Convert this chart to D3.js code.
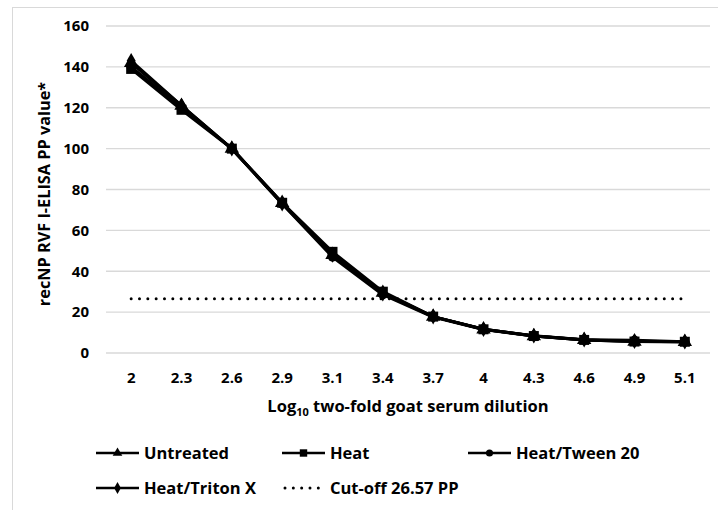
<!DOCTYPE html>
<html>
<head>
<meta charset="utf-8">
<script src="https://cdn.jsdelivr.net/npm/d3@7"></script>
<style>
  html, body { margin: 0; padding: 0; background: #fff; }
  svg { display: block; font-family: "Open Sans", Lato, sans-serif; font-weight: bold; }
</style>
</head>
<body>
<svg id="chart" width="718" height="510"></svg>
<script>
// Log10 two-fold goat serum dilution (category axis)
const dilutions = ["2", "2.3", "2.6", "2.9", "3.1", "3.4", "3.7", "4", "4.3", "4.6", "4.9", "5.1"];

// recNP RVF I-ELISA PP values per treatment
const untreated   = [142, 121, 100, 73.5, 48, 29.5, 17.8, 11.6, 8.3, 6.4, 5.6, 5.5];
const heat        = [139, 119, 100, 73.5, 49.5, 30, 17.8, 11.6, 8.3, 6.4, 5.6, 5.5];
const heatTween   = [140, 120, 100, 73, 47, 28.5, 17.6, 11.5, 8.3, 6.5, 6.2, 5.5];
const heatTriton  = [143, 121, 100, 73, 48, 29, 17.8, 11.6, 8.4, 6.5, 5.8, 5.5];

const cutoff = 26.57;
const yTicks = [0, 20, 40, 60, 80, 100, 120, 140, 160];

const series = [
  { name: "Untreated",     values: untreated,  symbol: d3.symbolTriangle, size: 90 },
  { name: "Heat",          values: heat,       symbol: d3.symbolSquare,   size: 100 },
  { name: "Heat/Tween 20", values: heatTween,  symbol: d3.symbolCircle,   size: 70 },
  { name: "Heat/Triton X", values: heatTriton, symbol: d3.symbolDiamond,  size: 70 }
];

const svg = d3.select("#chart");

// outer chart frame
svg.append("rect")
  .attr("x", 12.5).attr("y", 7.5).attr("width", 720).attr("height", 520)
  .attr("fill", "none").attr("stroke", "#d9d9d9").attr("stroke-width", 1);

const x = d3.scaleBand().domain(dilutions).range([106, 710]).padding(0);
const y = d3.scaleLinear().domain([0, 160]).range([353, 26]);
const cx = d => x(d) + x.bandwidth() / 2;

// horizontal gridlines
svg.append("g").selectAll("line").data(yTicks).join("line")
  .attr("x1", 106).attr("x2", 710)
  .attr("y1", d => y(d)).attr("y2", d => y(d))
  .attr("stroke", "#d9d9d9").attr("stroke-width", 1.3);

// y axis tick labels
svg.append("g").selectAll("text").data(yTicks).join("text")
  .attr("x", 89).attr("y", d => y(d)).attr("dy", "0.35em")
  .attr("text-anchor", "end").attr("font-size", 15).attr("fill", "#000")
  .text(d => d);

// x axis tick labels
svg.append("g").selectAll("text").data(dilutions).join("text")
  .attr("x", d => cx(d)).attr("y", 378).attr("dy", "0.35em")
  .attr("text-anchor", "middle").attr("font-size", 15).attr("fill", "#000")
  .text(d => d);

// axis titles
const xt = svg.append("text")
  .attr("x", 408).attr("y", 406).attr("dy", "0.35em")
  .attr("text-anchor", "middle").attr("font-size", 16.5).attr("fill", "#000");
xt.append("tspan").text("Log");
xt.append("tspan").attr("font-size", 11).attr("dy", 4).text("10");
xt.append("tspan").attr("dy", -4).text(" two-fold goat serum dilution");

svg.append("text")
  .attr("transform", "translate(44,194) rotate(-90)")
  .attr("dy", "0.35em")
  .attr("text-anchor", "middle").attr("font-size", 16.3).attr("fill", "#000")
  .text("recNP RVF I-ELISA PP value*");

// cut-off line
svg.append("line")
  .attr("x1", cx(dilutions[0])).attr("x2", cx(dilutions[dilutions.length - 1]))
  .attr("y1", y(cutoff)).attr("y2", y(cutoff))
  .attr("stroke", "#000").attr("stroke-width", 3)
  .attr("stroke-linecap", "round").attr("stroke-dasharray", "0 8.33");

// data lines and markers
const line = d3.line().x((d, i) => cx(dilutions[i])).y(d => y(d));
series.forEach(s => {
  svg.append("path").datum(s.values)
    .attr("d", line).attr("fill", "none")
    .attr("stroke", "#000").attr("stroke-width", 3).attr("stroke-linejoin", "round");
  svg.append("g").selectAll("path").data(s.values).join("path")
    .attr("transform", (d, i) => `translate(${cx(dilutions[i])},${y(d)})`)
    .attr("d", d3.symbol().type(s.symbol).size(s.size))
    .attr("fill", "#000");
});

// legend
const legendItems = [
  { name: "Untreated",          symbol: d3.symbolTriangle, x: 96,  y: 453 },
  { name: "Heat",               symbol: d3.symbolSquare,   x: 282, y: 453 },
  { name: "Heat/Tween 20",      symbol: d3.symbolCircle,   x: 468, y: 453 },
  { name: "Heat/Triton X",      symbol: d3.symbolDiamond,  x: 96,  y: 488 },
  { name: "Cut-off 26.57 PP",   symbol: null,              x: 282, y: 488 }
];
const lg = svg.append("g").selectAll("g").data(legendItems).join("g")
  .attr("transform", d => `translate(${d.x},${d.y})`);
lg.append("line")
  .attr("x1", d => d.symbol ? 0 : 3).attr("x2", 43).attr("y1", 0).attr("y2", 0)
  .attr("stroke", "#000")
  .attr("stroke-width", d => d.symbol ? 2.5 : 3)
  .attr("stroke-linecap", d => d.symbol ? "butt" : "round")
  .attr("stroke-dasharray", d => d.symbol ? null : "0 8.33");
lg.filter(d => d.symbol).append("path")
  .attr("transform", "translate(21.5,0)")
  .attr("d", d => d3.symbol().type(d.symbol).size(d.symbol === d3.symbolSquare ? 55 : 40)())
  .attr("fill", "#000");
lg.append("text")
  .attr("x", 48).attr("y", 0).attr("dy", "0.35em")
  .attr("font-size", 16.5).attr("fill", "#000")
  .text(d => d.name);
</script>
</body>
</html>
